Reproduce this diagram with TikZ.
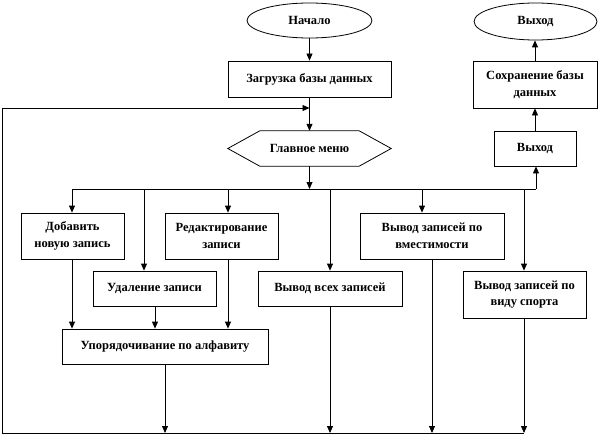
\documentclass[tikz,border=0pt]{standalone}
\usepackage{fontspec}
\setmainfont{Liberation Serif}[BoldFont={Liberation Serif Bold}]
\usetikzlibrary{arrows.meta,shapes.geometric}
\begin{document}
\begin{tikzpicture}[x=1pt,y=-1pt,
  every node/.style={font=\fontsize{12.5}{16.5}\selectfont\bfseries, inner sep=0pt, align=center},
  blk/.style={draw, line width=0.8pt},
  term/.style={draw, ellipse, line width=0.8pt},
  arr/.style={line width=0.8pt, -{Triangle[length=7pt,width=6pt]}},
  ln/.style={line width=0.8pt}]
\useasboundingbox (0,0) rectangle (600,436);
% nodes
\node[term, minimum width=125, minimum height=35] (start) at (309.5,20.5) {Начало};
\node[blk, minimum width=163, minimum height=36] (load) at (309.5,79) {Загрузка базы данных};
\node[minimum width=163, minimum height=35] (menu) at (309.5,148.5) {Главное меню};
\draw[ln] (menu.west) -- ([xshift=32pt]menu.north west) -- ([xshift=-32pt]menu.north east) -- (menu.east) -- ([xshift=-32pt]menu.south east) -- ([xshift=32pt]menu.south west) -- cycle;
\node[term, minimum width=123, minimum height=37] (end) at (535.5,21.5) {Выход};
\node[blk, minimum width=124, minimum height=47] (save) at (535,84.5) {Сохранение базы\\данных};
\node[blk, minimum width=82, minimum height=35] (exit) at (535,148.5) {Выход};
\node[blk, minimum width=103, minimum height=46] (add) at (72.5,236) {Добавить\\новую запись};
\node[blk, minimum width=113, minimum height=46] (edit) at (221.5,236) {Редактирование\\записи};
\node[blk, minimum width=123, minimum height=35] (del) at (154.5,288.5) {Удаление записи};
\node[blk, minimum width=144, minimum height=35] (all) at (330,288.5) {Вывод всех записей};
\node[blk, minimum width=144, minimum height=46] (cap) at (432,236) {Вывод записей по\\вместимости};
\node[blk, minimum width=123, minimum height=47] (sport) at (524.5,294.5) {Вывод записей по\\виду спорта};
\node[blk, minimum width=206, minimum height=35] (sort) at (165,346.5) {Упорядочивание по алфавиту};
% bus coordinates
\coordinate (bc) at (309.5,189);
\coordinate (bL) at (72,189);
\coordinate (b2) at (144,189);
\coordinate (b3) at (228,189);
\coordinate (b4) at (330,189);
\coordinate (b5) at (422,189);
\coordinate (b6) at (524,189);
\coordinate (bR) at (536,189);
\coordinate (lc) at (309.5,108);
\coordinate (lt) at (2,108);
\coordinate (lb) at (2,433);
\coordinate (e6) at (524,433);
% connectors top
\draw[arr] (start) -- (load);
\draw[arr] (load) -- (menu);
\draw[arr] (menu) -- (bc);
\draw[ln] (bL) -- (bR);
\draw[arr] (bL) -- (bL |- add.north);
\draw[arr] (b2) -- (b2 |- del.north);
\draw[arr] (b3) -- (b3 |- edit.north);
\draw[arr] (b4) -- (b4 |- all.north);
\draw[arr] (b5) -- (b5 |- cap.north);
\draw[arr] (b6) -- (b6 |- sport.north);
\draw[arr] (bR) -- (bR |- exit.south);
\draw[arr] (exit) -- (save);
\draw[arr] (save) -- (save |- end.south);
% into sort
\draw[arr] (bL |- add.south) -- (bL |- sort.north);
\draw[arr] ([xshift=0.5pt]del.south) -- ([xshift=0.5pt]del.south |- sort.north);
\draw[arr] (b3 |- edit.south) -- (b3 |- sort.north);
% to bottom line
\draw[arr] (sort.south) -- (sort.south |- lb);
\draw[arr] (all.south) -- (all.south |- lb);
\draw[arr] (cap.south) -- (cap.south |- lb);
\draw[arr] (b6 |- sport.south) -- (e6);
\draw[ln] (e6) -- (lb) -- (lt);
\draw[arr] (lt) -- (lc);
\end{tikzpicture}
\end{document}
